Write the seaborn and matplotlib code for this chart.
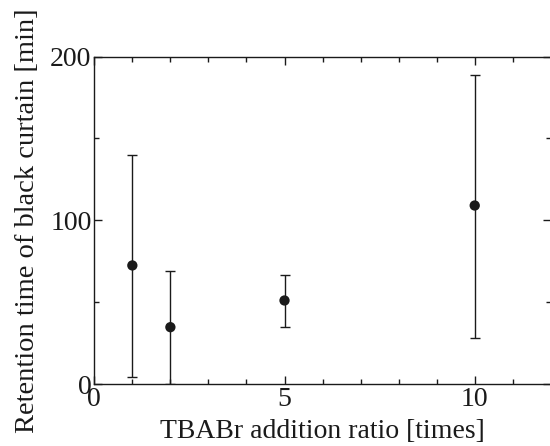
import numpy as np
import pandas as pd
import seaborn as sns
import matplotlib.pyplot as plt
from matplotlib.ticker import MultipleLocator

# Values
ratio = [1, 2, 5, 10]
retention = [72.4, 34.7, 51.0, 109.0]
err_low = [4.2, 0.0, 34.9, 27.8]
err_high = [139.7, 69.3, 66.4, 189.0]

df = pd.DataFrame({'ratio': ratio, 'retention': retention,
                   'low': err_low, 'high': err_high})

sns.set_theme(style='ticks')
plt.rcParams['font.family'] = ['Liberation Serif', 'DejaVu Serif']

fig = plt.figure(figsize=(5.5, 4.46), dpi=100)
ax = fig.add_axes([94.3 / 550, 62 / 446, 456.5 / 550, 327.5 / 446])

yerr = np.array([df['retention'] - df['low'], df['high'] - df['retention']])
ax.errorbar(df['ratio'], df['retention'], yerr=yerr, fmt='none',
            ecolor='#1a1a1a', elinewidth=1.0, capsize=3.6, capthick=1.0)
sns.scatterplot(data=df, x='ratio', y='retention', ax=ax, color='#1a1a1a',
                s=55, edgecolor='none', zorder=3)

ax.set_xlim(0, 12)
ax.set_ylim(0, 200)
ax.xaxis.set_major_locator(MultipleLocator(5))
ax.xaxis.set_minor_locator(MultipleLocator(1))
ax.yaxis.set_major_locator(MultipleLocator(100))
ax.yaxis.set_minor_locator(MultipleLocator(50))
ax.tick_params(which='both', direction='in', top=True, right=True,
               labelsize=20, colors='#1a1a1a', width=1.0)
ax.tick_params(which='major', length=6)
ax.tick_params(which='minor', length=3.5)
ax.tick_params(axis='x', pad=2)
ax.tick_params(axis='y', pad=2)
for sp in ax.spines.values():
    sp.set_visible(True)
    sp.set_linewidth(1.0)
    sp.set_color('#1a1a1a')

ax.set_xlabel('TBABr addition ratio [times]', fontsize=20, color='#1a1a1a', labelpad=5)
ax.set_ylabel('Retention time of black curtain [min]', fontsize=20.5, color='#1a1a1a', labelpad=7)

fig.savefig('out.png', dpi=100)
